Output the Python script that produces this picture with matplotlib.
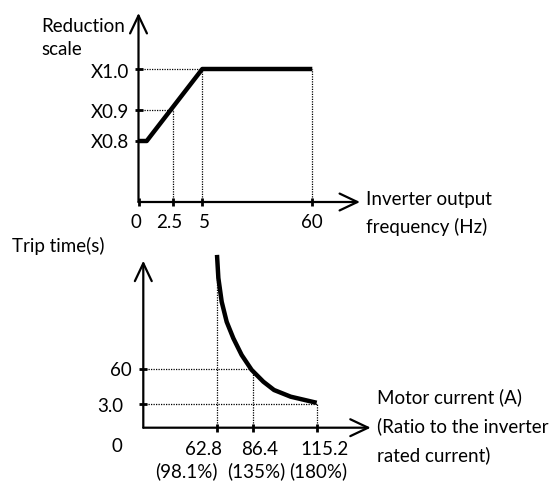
import numpy as np
import matplotlib
matplotlib.use("Agg")
import matplotlib.pyplot as plt

plt.rcParams['font.family'] = ['Lato', 'DejaVu Sans']
plt.rcParams['font.size'] = 13.5

# upper chart: reduction scale vs inverter output frequency
freq = [0, 0.6, 5, 60]
scale = [0.8, 0.8, 1.0, 1.0]
freq_ticks = [0, 2.5, 5, 60]
freq_labels = ['0', '2.5', '5', '60']
scale_ticks = [0.8, 0.9, 1.0]
scale_labels = ['X0.8', 'X0.9', 'X1.0']

# lower chart: trip time vs motor current
current = [62.8, 63.7, 65.9, 69.2, 73.6, 79.1, 85.7, 91.2, 96.0, 103.5, 115.2]
trip = [248, 210, 171, 138, 111, 83.5, 59, 39.6, 26, 15, 5]
cur_ticks = [62.8, 86.4, 115.2]
cur_labels = ['62.8', '86.4', '115.2']
ratio_labels = ['(98.1%)', '(135%)', '(180%)']
trip_ticks = [60, 3.0]
trip_labels = ['60', '3.0']

# the drawing is not to scale: piecewise mapping value -> pixel offset
freq_map = ([0, 2.5, 5, 60, 100], [0, 34.2, 63.8, 173.8, 253.8])
scale_map = ([0.6, 0.8, 0.9, 1.0, 1.2], [-1, 61, 92, 133, 215])
cur_map = ([0, 62.8, 86.4, 115.2, 150], [0, 73.7, 109.4, 173.4, 250.7])
trip_map = ([0, 3, 60, 400], [0, 23.7, 58.4, 265.3])

# label nudges (pixels) as laid out in the original drawing
freq_dx = [-2.5, -3.7, 1.7, 0]
scale_dy = [-7.3, -8.3, -9.3]
cur_dx = [-14, 7.3, 7.5]
ratio_dx = [-31, 3.5, 1]
trip_dx = [-11.6, -20]
trip_dy = [-7.2, -7.7]

W, H = 560, 488
fig = plt.figure(figsize=(W / 100, H / 100), dpi=100)


def funcs(m):
    v, p = m
    return (lambda x: np.interp(x, v, p), lambda y: np.interp(y, p, v))


def make_axes(x0, y0, x1, y1, xm, ym):
    ax = fig.add_axes([x0 / W, 1 - y0 / H, (x1 - x0) / W, (y0 - y1) / H])
    fx, ix = funcs(xm)
    fy, iy = funcs(ym)
    ax.set_xscale('function', functions=(fx, ix))
    ax.set_yscale('function', functions=(fy, iy))
    ax.set_xlim(ix(0), ix(x1 - x0))
    ax.set_ylim(iy(0), iy(y0 - y1))
    ax.patch.set_alpha(0)
    for s in ax.spines.values():
        s.set_visible(False)
    arrow = dict(arrowstyle='->,head_length=0.95,head_width=0.45', lw=1.6,
                 color='black', shrinkA=0, shrinkB=0)
    ax.annotate('', xy=(1, 0), xytext=(0, 0), xycoords='axes fraction', arrowprops=arrow)
    ax.annotate('', xy=(0, 1), xytext=(0, 0), xycoords='axes fraction', arrowprops=arrow)
    ax.tick_params(direction='inout', length=6, width=2, color='black',
                   labelbottom=False, labelleft=False)
    ax.minorticks_off()
    return ax


def xlab(ax, x, s, dx, dy):
    ax.annotate(s, xy=(x, 0), xycoords=('data', 'axes fraction'), xytext=(dx, dy),
                textcoords='offset pixels', ha='center', va='baseline')


def ylab(ax, y, s, dx, dy):
    ax.annotate(s, xy=(0, y), xycoords=('axes fraction', 'data'), xytext=(dx, dy),
                textcoords='offset pixels', ha='right', va='baseline')


dot = dict(color='black', lw=0.9, ls=(0, (1, 1)))

# ---- top
ax1 = make_axes(138.5, 202, 360, 13, freq_map, scale_map)
ax1.plot(freq, scale, color='black', lw=3.2, solid_capstyle='butt')
ax1.set_xticks(freq_ticks)
ax1.set_yticks(scale_ticks)
for x, s, dx in zip(freq_ticks, freq_labels, freq_dx):
    xlab(ax1, x, s, dx, -26.3)
for y, s, dy in zip(scale_ticks, scale_labels, scale_dy):
    ylab(ax1, y, s, -9.2, dy)
y_bot = ax1.get_ylim()[0]
ax1.plot([0, 5], [1.0, 1.0], **dot)
ax1.plot([0, 2.5], [0.9, 0.9], **dot)
ax1.plot([2.5, 2.5], [y_bot, 0.9], **dot)
ax1.plot([5, 5], [y_bot, 1.0], **dot)
ax1.plot([60, 60], [y_bot, 1.0], **dot)

# ---- bottom
ax2 = make_axes(143.3, 427.7, 370.7, 260.7, cur_map, trip_map)
ax2.plot(current, trip, color='black', lw=3.2, clip_on=False,
         solid_capstyle='butt', solid_joinstyle='round')
ax2.set_xticks(cur_ticks)
ax2.set_yticks(trip_ticks)
for x, s, dx in zip(cur_ticks, cur_labels, cur_dx):
    xlab(ax2, x, s, dx, -27.3)
for x, s, dx in zip(cur_ticks, ratio_labels, ratio_dx):
    xlab(ax2, x, s, dx, -49.8)
for y, s, dx, dy in zip(trip_ticks, trip_labels, trip_dx, trip_dy):
    ylab(ax2, y, s, dx, dy)
ax2.plot([0, 86.4], [60, 60], **dot)
ax2.plot([0, 115.2], [3.0, 3.0], **dot)
ax2.plot([62.8, 62.8], [0, trip[0]], clip_on=False, **dot)
ax2.plot([86.4, 86.4], [0, 60], **dot)
ax2.plot([115.2, 115.2], [0, trip[-1]], **dot)
ax2.annotate('0', xy=(0, 0), xycoords='axes fraction', xytext=(-26.6, -24),
             textcoords='offset pixels', ha='center', va='baseline')


def ftext(x, y, s, **kw):
    fig.text(x / W, 1 - y / H, s, va='baseline', **kw)


ftext(41.7, 31.7, 'Reduction')
ftext(41.7, 55, 'scale')
ftext(366, 204.5, 'Inverter output')
ftext(366, 233.3, 'frequency (Hz)')
ftext(11.7, 251.5, 'Trip time(s)')
ftext(377.3, 403, 'Motor current (A)')
ftext(376.7, 432.3, '(Ratio to the inverter')
ftext(377, 461.6, 'rated current)')

fig.savefig('out.png', dpi=100)
